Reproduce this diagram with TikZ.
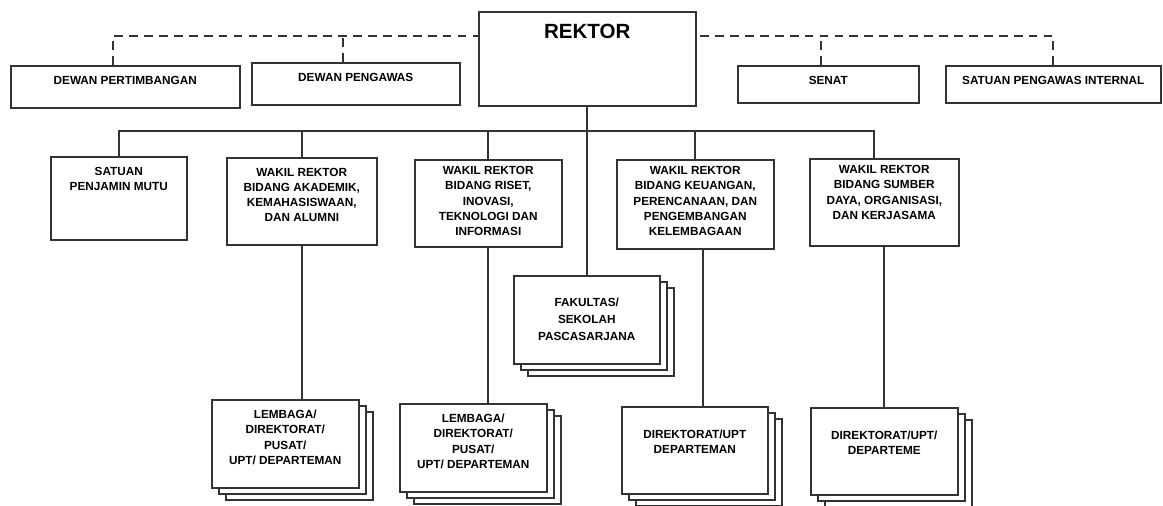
\documentclass[tikz,border=0pt]{standalone}
\usepackage{fontspec}
\setmainfont{Liberation Sans}
\usetikzlibrary{shadows}

\tikzset{
    unit/.style={draw=black!80, line width=0.9pt, fill=white, inner sep=0pt, anchor=north west},
    stack/.style={unit,
        copy shadow={shadow xshift=8pt, shadow yshift=-6.8pt, draw=black!80, line width=0.9pt, fill=white},
        copy shadow={shadow xshift=4pt, shadow yshift=-3.4pt, draw=black!80, line width=0.9pt, fill=white}},
    lab/.style={anchor=north, align=center, inner sep=0pt, yshift=-6pt,
        font=\fontsize{6.7}{8.7}\selectfont\bfseries},
    link/.style={draw=black!80, line width=0.9pt},
    dashlink/.style={link, dash pattern=on 5pt off 3.5pt},
}

\begin{document}
\begin{tikzpicture}[x=0.02cm, y=-0.02cm]
    \useasboundingbox (0,0) rectangle (1163,505);

    % Rektor and the boards around it
    \node[unit, minimum width=4.34cm, minimum height=1.88cm,
        label={[lab, yshift=-1.2pt, font=\fontsize{11.7}{14}\selectfont\bfseries]north:REKTOR}] (rektor) at (478,11) {};
    \node[unit, minimum width=4.58cm, minimum height=0.84cm, label={[lab]north:DEWAN PERTIMBANGAN}] (dp) at (10,65) {};
    \node[unit, minimum width=4.16cm, minimum height=0.84cm, label={[lab]north:DEWAN PENGAWAS}] (dpw) at (251,62) {};
    \node[unit, minimum width=3.62cm, minimum height=0.74cm, label={[lab]north:SENAT}] (senat) at (737,65) {};
    \node[unit, minimum width=4.30cm, minimum height=0.74cm, label={[lab]north:SATUAN PENGAWAS INTERNAL}] (spi) at (945,65) {};

    % Second row
    \node[unit, minimum width=2.72cm, minimum height=1.66cm,
        label={[lab]north:{SATUAN\\PENJAMIN MUTU}}] (spm) at (50,156) {};
    \node[unit, minimum width=3.00cm, minimum height=1.74cm,
        label={[lab]north:{WAKIL REKTOR\\BIDANG AKADEMIK,\\KEMAHASISWAAN,\\DAN ALUMNI}}] (wr1) at (226,157) {};
    \node[unit, minimum width=2.94cm, minimum height=1.74cm,
        label={[lab, yshift=2pt]north:{WAKIL REKTOR\\BIDANG RISET,\\INOVASI,\\TEKNOLOGI DAN\\INFORMASI}}] (wr2) at (414,159) {};
    \node[unit, minimum width=3.14cm, minimum height=1.78cm,
        label={[lab, yshift=2pt]north:{WAKIL REKTOR\\BIDANG KEUANGAN,\\PERENCANAAN, DAN\\PENGEMBANGAN\\KELEMBAGAAN}}] (wr3) at (616,159) {};
    \node[unit, minimum width=2.98cm, minimum height=1.74cm,
        label={[lab, yshift=2pt]north:{WAKIL REKTOR\\BIDANG SUMBER\\DAYA, ORGANISASI,\\DAN KERJASAMA}}] (wr4) at (809,158) {};

    % Stacked units
    \node[stack, minimum width=2.92cm, minimum height=1.76cm,
        label={[lab, yshift=-7pt, font=\fontsize{6.7}{9.6}\selectfont\bfseries]north:{FAKULTAS/\\SEKOLAH\\PASCASARJANA}}] (fak) at (513,275) {};
    \node[stack, minimum width=2.94cm, minimum height=1.76cm,
        label={[lab]north:{LEMBAGA/\\DIREKTORAT/\\PUSAT/\\UPT/ DEPARTEMAN}}] (lem1) at (211,399) {};
    \node[stack, minimum width=2.94cm, minimum height=1.76cm,
        label={[lab]north:{LEMBAGA/\\DIREKTORAT/\\PUSAT/\\UPT/ DEPARTEMAN}}] (lem2) at (399,403) {};
    \node[stack, minimum width=2.92cm, minimum height=1.74cm,
        label={[lab, yshift=-7.5pt]north:{DIREKTORAT/UPT\\DEPARTEMAN}}] (dir1) at (621,406) {};
    \node[stack, minimum width=2.94cm, minimum height=1.74cm,
        label={[lab, yshift=-7.5pt]north:{DIREKTORAT/UPT/\\DEPARTEME}}] (dir2) at (810,407) {};

    % Dashed lines to the boards
    \coordinate (dashy) at (0,36);
    \coordinate (bus) at (0,131);
    \draw[dashlink] ([xshift=-0.24cm]dp.north) |- (rektor.west |- dashy);
    \draw[dashlink] ([xshift=-0.26cm]dpw.north) -- ([xshift=-0.26cm]dpw.north |- dashy);
    \draw[dashlink] ([xshift=-0.15cm]senat.north) -- ([xshift=-0.15cm]senat.north |- dashy);
    \draw[dashlink] (spi.north) |- (rektor.east |- dashy);

    % Solid lines
    \draw[link] (rektor.south) -- (rektor.south |- fak.north);
    \draw[link] (spm.north) |- ([xshift=-0.2cm]wr4.north |- bus) -- ([xshift=-0.2cm]wr4.north);
    \foreach \n in {wr1,wr2,wr3} \draw[link] (\n.north) -- (\n.north |- bus);
    \draw[link] (wr1.south) -- (wr1.south |- lem1.north);
    \draw[link] (wr2.south) -- (wr2.south |- lem2.north);
    \draw[link] ([xshift=0.16cm]wr3.south) -- ([xshift=0.16cm]wr3.south |- dir1.north);
    \draw[link] (wr4.south) -- (wr4.south |- dir2.north);
\end{tikzpicture}
\end{document}
